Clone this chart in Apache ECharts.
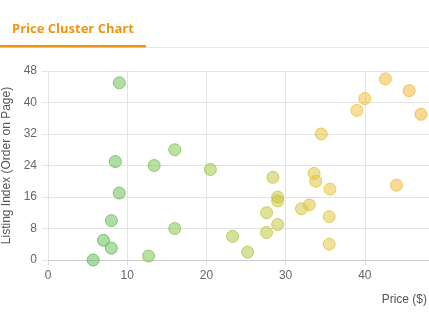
<!DOCTYPE html>
<html>
<head>
<meta charset="utf-8">
<script src="https://cdn.jsdelivr.net/npm/echarts@6/dist/echarts.min.js"></script>
<style>
html,body{margin:0;padding:0;overflow:hidden;background:#fff;width:429px;height:321px;}
#chart{width:444px;height:321px;}
</style>
</head>
<body>
<div id="chart"></div>
<script>
var prices = [5.7, 12.7, 25.2, 8.0, 35.5, 7.0, 23.3, 27.6, 16.0, 29.0, 8.0, 35.5, 27.6, 32.0, 33.0, 29.0, 29.0, 9.0, 35.6, 44.0, 33.8, 28.4, 33.6, 20.5, 13.4, 8.5, 16.0, 34.5, 47.1, 39.0, 40.0, 45.6, 9.0, 42.6];
var listingIndex = [0, 1, 2, 3, 4, 5, 6, 7, 8, 9, 10, 11, 12, 13, 14, 15, 16, 17, 18, 19, 20, 21, 22, 23, 24, 25, 28, 32, 37, 38, 41, 43, 45, 46];
var xTicks = [0, 10, 20, 30, 40, 50];
var yTicks = [0, 8, 16, 24, 32, 40, 48];

var stops = [[5, [88,186,88]], [20, [150,200,70]], [29, [200,196,60]], [37, [236,196,60]], [47, [245,180,50]]];
function colorAt(v){
  if (v <= stops[0][0]) return stops[0][1];
  for (var i=1;i<stops.length;i++){
    if (v <= stops[i][0]){
      var a=stops[i-1], b=stops[i], t=(v-a[0])/(b[0]-a[0]);
      return a[1].map(function(c,k){return Math.round(c+(b[1][k]-c)*t);});
    }
  }
  return stops[stops.length-1][1];
}
var data = prices.map(function(p,i){
  var c = colorAt(p);
  return {value:[p, listingIndex[i]], itemStyle:{color:'rgba('+c.join(',')+',0.65)', borderColor:'rgb('+c.join(',')+')', borderWidth:1}};
});

var chart = echarts.init(document.getElementById('chart'), null, {renderer:'canvas'});
chart.setOption({
  animation:false,
  title:{text:'Price Cluster Chart', left:7, top:18, textStyle:{color:'#f0960e', fontSize:13, fontWeight:'bold', fontFamily:'Open Sans'}},
  graphic:[
    {type:'rect', shape:{x:0,y:47,width:444,height:1}, style:{fill:'#e6e6e6'}},
    {type:'rect', shape:{x:0,y:45,width:146,height:2.5}, style:{fill:'#f0960e'}}
  ],
  grid:{left:48, right:0, top:71, bottom:61, containLabel:false, outerBoundsMode:'none'},
  xAxis:{type:'value', min:xTicks[0], max:xTicks[xTicks.length-1], interval:10,
    name:'Price ($)', nameLocation:'end', nameGap:0,
    nameTextStyle:{align:'right', verticalAlign:'top', padding:[34,17,0,0], color:'#555', fontSize:12, fontFamily:'Liberation Sans'},
    axisLine:{show:true, lineStyle:{color:'#cccccc'}},
    axisTick:{show:true, length:5, lineStyle:{color:'#dddddd'}},
    splitLine:{show:true, lineStyle:{color:'#e3e3e3'}},
    axisLabel:{color:'#666', fontSize:12, margin:10, fontFamily:'Liberation Sans'}
  },
  yAxis:{type:'value', min:yTicks[0], max:yTicks[yTicks.length-1], interval:8,
    name:'Listing Index (Order on Page)', nameLocation:'middle', nameGap:31,
    nameTextStyle:{color:'#555', fontSize:12, fontFamily:'Liberation Sans'},
    axisLine:{show:false},
    axisTick:{show:true, length:6, lineStyle:{color:'#e3e3e3'}},
    splitLine:{show:true, lineStyle:{color:'#e3e3e3'}},
    axisLabel:{color:'#666', fontSize:12, margin:11, fontFamily:'Liberation Sans'}
  },
  series:[{type:'scatter', symbolSize:12, data:data}]
});
</script>
</body>
</html>
